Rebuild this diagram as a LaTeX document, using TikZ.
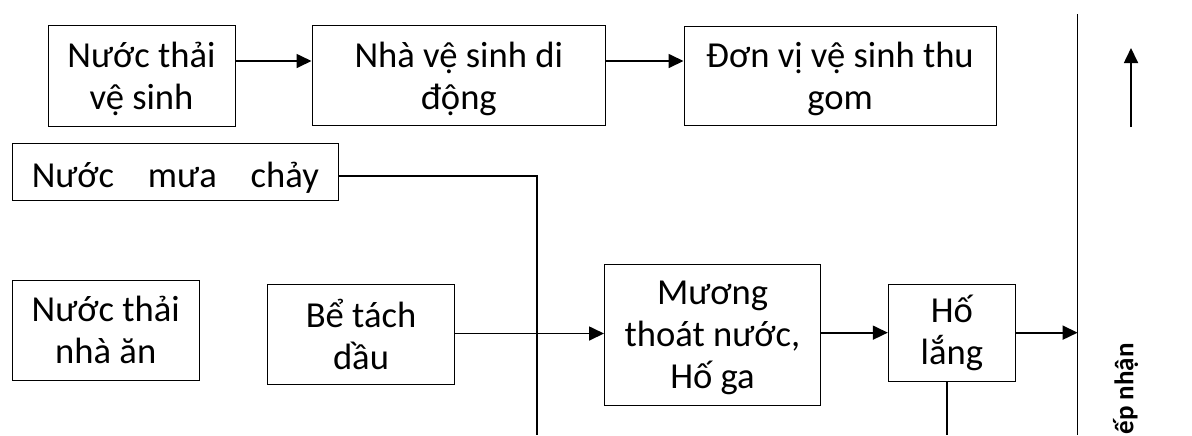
\documentclass[tikz,border=0pt]{standalone}
\usepackage{fontspec}
\setmainfont{Carlito}
\usetikzlibrary{arrows.meta,positioning}

\begin{document}
\begin{tikzpicture}[%
    x=0.5pt, y=-0.5pt,
    >={Triangle[length=7.5pt,width=7pt]},
    box/.style={draw, line width=0.5pt, inner sep=0pt, align=center,
        font=\fontsize{18.3pt}{21pt}\selectfont},
    low/.style={text depth=-7pt},
    flow/.style={->, line width=0.85pt},
    pipe/.style={line width=0.6pt}
    ]

    \useasboundingbox (0,0) rectangle (1192,435);
    \clip (0,0) rectangle (1192,435);

    \node[box, low, minimum width=93.5pt, minimum height=50.5pt] (A) at (141.5,75.5) {Nước thải\\vệ sinh};
    \node[box, low, minimum width=146.75pt, minimum height=50pt, right=38pt of A] (B) {Nhà vệ sinh di\\động};
    \node[box, low, minimum width=156pt, minimum height=49.5pt, right=38.75pt of B] (C) {Đơn vị vệ sinh thu\\gom};
    \node[box, minimum width=163.25pt, minimum height=28.5pt, text height=16pt, text depth=0.5pt] (D) at (175.25,171.5) {\makebox[143.5pt][s]{Nước mưa chảy}};
    \node[box, minimum width=93.75pt, minimum height=50pt] (E) at (105.75,330) {Nước thải\\nhà ăn};
    \node[box, minimum width=93.5pt, minimum height=50pt] (F) at (361,334) {Bể tách\\dầu};
    \node[box, low, minimum width=108pt, minimum height=70.75pt] (G) at (712.5,334.75) {Mương\\thoát nước,\\Hố ga};
    \node[box, minimum width=63.6pt, minimum height=48.35pt] (H) at (951.9,332.65) {Hố\\lắng};
    \node[font=\bfseries\fontsize{13.5pt}{15pt}\selectfont, rotate=90, anchor=east, inner sep=0pt] (nhan) at (1125.6,343) {ếp nhận};

    \coordinate (top) at (1077.6,14);
    \coordinate (bot) at (1077.6,435);
    \coordinate (j) at (537,333.5);
    \coordinate (hb) at (947,435);
    \coordinate (up1) at (1131,127);
    \coordinate (up2) at (1131,48);

    \draw[flow] (A.east |- 0,61) -- (B.west |- 0,61);
    \draw[flow] (B.east |- 0,61) -- (C.west |- 0,61);
    \draw[pipe] (D.east |- 0,176) -| (bot -| j);
    \draw[pipe] (F.east |- j) -- (j);
    \draw[flow] (j) -- (j -| G.west);
    \draw[flow] (G.east |- H.west) -- (H.west);
    \draw[flow] (H.east) -- (H.east -| top);
    \draw[pipe] (H.south -| hb) -- (hb);
    \draw[line width=0.8pt] (top) -- (bot);
    \draw[flow] (up1) -- (up2);

\end{tikzpicture}
\end{document}
